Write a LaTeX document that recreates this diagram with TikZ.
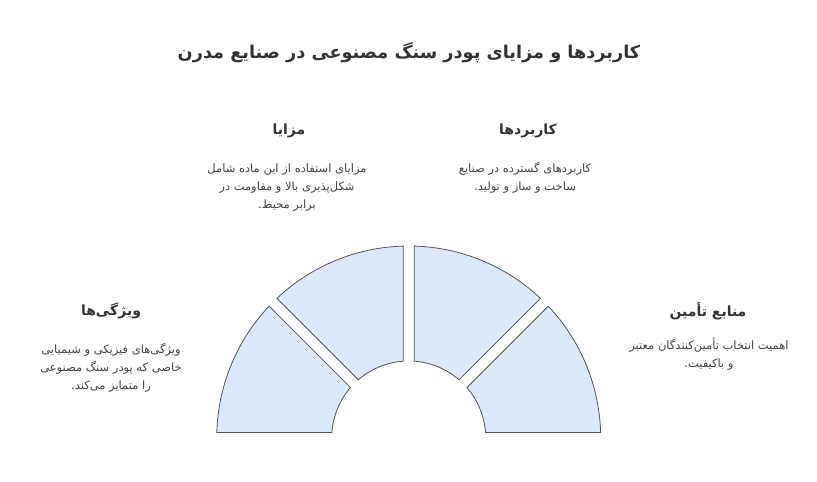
\documentclass[tikz,border=0pt]{standalone}
\usepackage{fontspec}
\setmainfont{DejaVu Sans}
\newfontfamily\arabicfont[Script=Arabic]{DejaVu Sans}
\TeXXeTstate=1
\usetikzlibrary{calc}
\definecolor{segfill}{HTML}{DCE8FC}
\definecolor{segline}{HTML}{555555}
\definecolor{headtxt}{HTML}{333333}
\definecolor{bodytxt}{HTML}{444444}
\tikzset{
  seg/.style={fill=segfill, draw=segline, line width=0.8pt, line join=round},
  titletxt/.style={font=\arabicfont\bfseries\fontsize{17.7}{20}\selectfont, text=headtxt, align=center},
  headtext/.style={font=\arabicfont\bfseries\fontsize{14}{16}\selectfont, text=headtxt, align=center},
  bodytext/.style={font=\arabicfont\fontsize{11.5}{18}\selectfont, text=bodytxt, align=center},
}
\begin{document}
\begin{tikzpicture}[x=1pt,y=1pt]
\useasboundingbox[fill=white] (0,0) rectangle (817,482);
\coordinate (C) at (408.7,44);
\foreach \a in {0,45,90,135} {
  \draw[seg] ($(C)+(\a+1.64:192pt)$) arc[start angle=\a+1.64, end angle=\a+43.36, radius=192pt]
    -- ($(C)+(\a+40.9:77pt)$) arc[start angle=\a+40.9, end angle=\a+4.1, radius=77pt] -- cycle;
}
\node[titletxt] (title) at (409,429) {\beginR کاربردها و مزایای پودر سنگ مصنوعی در صنایع مدرن\endR};
\node[headtext] (h1) at (289,351) {\beginR مزایا\endR};
\node[bodytext] (b1) at (287,294) {\beginR مزایای استفاده از این ماده شامل\endR\\\beginR شکل‌پذیری بالا و مقاومت در\endR\\\beginR برابر محیط.\endR};
\node[headtext] (h2) at (528,351) {\beginR کاربردها\endR};
\node[bodytext] (b2) at (525,304) {\beginR کاربردهای گسترده در صنایع\endR\\\beginR ساخت و ساز و تولید.\endR};
\node[headtext] (h3) at (111,171) {\beginR ویژگی‌ها\endR};
\node[bodytext] (b3) at (111,114) {\beginR ویژگی‌های فیزیکی و شیمیایی\endR\\\beginR خاصی که پودر سنگ مصنوعی\endR\\\beginR را متمایز می‌کند.\endR};
\node[headtext] (h4) at (708,171) {\beginR منابع تأمین\endR};
\node[bodytext] (b4) at (709,128) {\beginR اهمیت انتخاب تأمین‌کنندگان معتبر\endR\\\beginR و باکیفیت.\endR};
\end{tikzpicture}
\end{document}
